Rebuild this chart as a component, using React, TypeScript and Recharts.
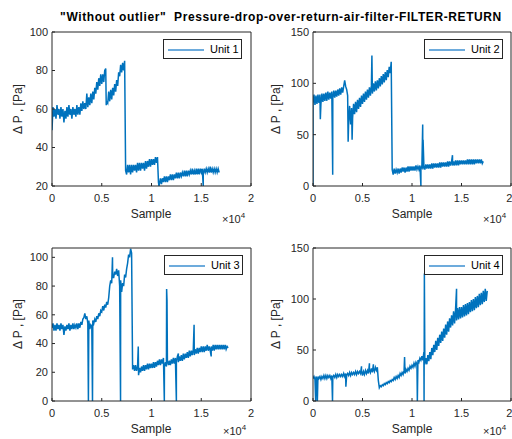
import { LineChart, Line, XAxis, YAxis, Legend } from 'recharts'

// samples are spaced STEP apart; spikes are extra [sample, value] points
const STEP = 100

const unit1Values = [
  49, 61, 56, 60, 55, 62, 57, 60, 55, 61,
  56, 60, 53, 59, 55, 61, 56, 62, 57, 60,
  55, 61, 57, 60, 56, 62, 57, 61, 57, 63,
  59, 64, 60, 63, 60, 68, 61, 66, 62, 68,
  63, 69, 65, 71, 68, 74, 70, 76, 72, 78,
  73, 78, 74, 80, 81, 64, 63, 69, 64, 70,
  65, 71, 67, 73, 69, 75, 72, 79, 77, 83,
  79, 84, 80, 85, 28, 26, 31, 27, 31, 26,
  31, 27, 31, 28, 31, 27, 32, 28, 32, 28,
  32, 29, 32, 28, 33, 29, 33, 30, 34, 30,
  34, 31, 34, 31, 35, 32, 35, 22, 21, 24,
  21, 24, 22, 25, 22, 25, 22, 25, 23, 26,
  23, 26, 23, 26, 24, 27, 24, 27, 24, 27,
  25, 27, 25, 28, 25, 28, 25, 28, 26, 28,
  26, 29, 26, 28, 26, 29, 26, 29, 26, 29,
  27, 29, 26, 29, 27, 29, 27, 29, 27, 30,
  27, 29, 27, 29, 27, 29, 27, 29, 27,
]
const unit1Spikes: [number, number][] = [[3500, 68], [5450, 62], [10750, 20], [15200, 20]]

const unit2Values = [
  80, 89, 79, 88, 80, 89, 81, 89, 80, 90,
  82, 90, 83, 91, 83, 92, 84, 91, 85, 92,
  85, 93, 86, 93, 87, 94, 88, 95, 89, 96,
  91, 97, 103, 97, 94, 88, 62, 78, 60, 76,
  66, 80, 70, 82, 72, 84, 75, 86, 77, 88,
  80, 90, 82, 92, 84, 94, 86, 96, 88, 98,
  90, 100, 92, 102, 93, 103, 95, 105, 97, 107,
  99, 109, 101, 111, 103, 113, 106, 116, 110, 121,
  16, 11, 17, 12, 16, 13, 17, 12, 17, 13,
  18, 14, 18, 13, 18, 14, 19, 14, 19, 15,
  19, 15, 19, 15, 20, 16, 19, 16, 20, 16,
  20, 16, 20, 16, 21, 17, 21, 17, 21, 17,
  22, 17, 22, 18, 22, 18, 22, 18, 23, 18,
  23, 19, 23, 19, 23, 19, 24, 19, 24, 20,
  24, 20, 24, 20, 25, 20, 25, 20, 25, 21,
  25, 21, 25, 21, 25, 21, 26, 21, 26, 21,
  26, 21, 26, 21, 26, 22, 26, 22, 26, 22,
  26, 22, 24,
]
const unit2Spikes: [number, number][] = [
  [0, 0], [740, 65], [1990, 11], [3550, 43], [3950, 45], [5950, 127],
  [10900, 0], [11080, 60], [11120, 45], [14090, 30],
]

const unit3Values = [
  51, 54, 49, 53, 49, 54, 50, 53, 49, 54,
  50, 53, 46, 52, 49, 53, 50, 54, 49, 53,
  50, 54, 50, 53, 51, 54, 50, 54, 51, 55,
  53, 57, 58, 61, 57, 59, 54, 56, 50, 53,
  52, 56, 54, 57, 55, 59, 57, 61, 59, 63,
  62, 66, 63, 67, 65, 69, 67, 72, 80, 84,
  82, 86, 86, 90, 88, 92, 87, 91, 80, 84,
  76, 82, 80, 88, 86, 92, 96, 102, 100, 106,
  103, 22, 25, 21, 25, 21, 24, 18, 23, 20,
  24, 21, 25, 21, 25, 22, 26, 22, 26, 23,
  26, 23, 27, 23, 27, 24, 28, 25, 29, 25,
  29, 26, 30, 24, 27, 24, 28, 25, 28, 25,
  29, 26, 30, 26, 30, 27, 31, 27, 31, 28,
  32, 28, 33, 29, 33, 30, 34, 30, 35, 31,
  35, 32, 36, 32, 36, 33, 37, 33, 37, 34,
  38, 34, 38, 34, 38, 35, 39, 35, 38, 35,
  38, 35, 39, 35, 39, 36, 39, 36, 39, 36,
  39, 36, 39, 36, 39, 36, 38, 37,
]
const unit3Spikes: [number, number][] = [
  [3660, 0], [4070, 0], [6080, 100], [6890, 0], [8670, 38], [11290, 0],
  [11520, 78], [11560, 70], [12500, 0], [12700, 33], [14280, 53], [16000, 31],
]

const unit4Values = [
  22, 24, 21, 24, 21, 24, 22, 24, 21, 24,
  22, 25, 22, 25, 22, 25, 23, 25, 22, 25,
  23, 25, 23, 26, 23, 26, 24, 26, 24, 26,
  24, 27, 24, 27, 25, 27, 25, 28, 25, 28,
  26, 28, 26, 29, 26, 29, 27, 29, 27, 30,
  25, 29, 26, 30, 27, 30, 27, 31, 28, 32,
  28, 32, 29, 33, 30, 33, 20, 13, 15, 14,
  16, 15, 17, 16, 18, 17, 19, 18, 20, 19,
  21, 20, 23, 21, 24, 22, 25, 23, 27, 25,
  28, 26, 30, 27, 31, 29, 32, 30, 34, 32,
  35, 33, 37, 34, 38, 36, 40, 38, 42, 40,
  44, 40, 48, 36, 42, 36, 45, 39, 48, 41,
  52, 45, 55, 48, 59, 50, 62, 54, 65, 57,
  68, 59, 71, 62, 75, 65, 78, 68, 81, 72,
  84, 74, 88, 76, 90, 79, 91, 80, 92, 81,
  92, 82, 94, 83, 95, 84, 96, 85, 97, 87,
  99, 88, 100, 89, 102, 91, 103, 92, 105, 94,
  106, 95, 108, 97, 110, 98, 108,
]
const unit4Spikes: [number, number][] = [
  [270, 0], [440, 0], [1970, 0], [3320, 14], [4900, 34], [5700, 37], [6100, 36],
  [9250, 43], [10540, 0], [11220, 0], [11250, 125], [14500, 110],
]

const X_TICKS = [0, 5000, 10000, 15000, 20000]
const Y_TICKS_1 = [20, 40, 60, 80, 100]
const Y_TICKS_2 = [0, 50, 100, 150]
const Y_TICKS_3 = [0, 20, 40, 60, 80, 100]
const Y_TICKS_4 = [0, 50, 100, 150]

const LINE = '#0072BD'
const AXIS = '#262626'
const FONT = '"Liberation Sans", Arial, Helvetica, sans-serif'

function buildSeries(values: number[], spikes: [number, number][]) {
  const pts = values.map((v, i) => ({ sample: i * STEP, value: v, order: 1 }))
  spikes.forEach(([s, v]) => pts.push({ sample: s, value: v, order: 0 }))
  return pts.sort((a, b) => a.sample - b.sample || a.order - b.order)
}

const tickStyle = { fontSize: 11, fill: AXIS, fontFamily: FONT }

function UnitLegend({ payload }: any) {
  const item = payload && payload[0]
  if (!item) return null
  return (
    <div
      style={{
        width: 79,
        height: 20,
        boxSizing: 'border-box',
        border: `1px solid ${AXIS}`,
        background: '#fff',
        position: 'relative',
        fontFamily: FONT,
        fontSize: 11,
        color: '#000',
      }}
    >
      <svg width={40} height={18} style={{ position: 'absolute', left: 0, top: 0 }}>
        <line x1={4} y1={10} x2={40} y2={10} stroke="#3d8fd0" strokeWidth={1.5} />
      </svg>
      <span style={{ position: 'absolute', left: 46, top: 3, lineHeight: '13px' }}>{item.value}</span>
    </div>
  )
}

interface PanelProps {
  name: string
  data: { sample: number; value: number }[]
  yDomain: [number, number]
  yTicks: number[]
  left: number
  top: number
  height: number
  margin: { top: number; left: number; right: number; bottom: number }
  legendLeft: number
  legendTop: number
}

function Panel({ name, data, yDomain, yTicks, left, top, height, margin, legendLeft, legendTop }: PanelProps) {
  return (
    <div style={{ position: 'absolute', left, top }}>
      <LineChart width={256} height={height} data={data} margin={margin}>
        <XAxis
          dataKey="sample"
          type="number"
          domain={[0, 20000]}
          ticks={X_TICKS}
          tickFormatter={(v) => String(v / 10000)}
          height={20}
          tickSize={-3}
          tickMargin={11}
          tick={tickStyle}
          stroke={AXIS}
          allowDataOverflow
        />
        <XAxis
          xAxisId="top"
          orientation="top"
          type="number"
          domain={[0, 20000]}
          ticks={X_TICKS}
          height={2}
          tickSize={-3}
          tick={false}
          stroke={AXIS}
          allowDataOverflow
        />
        <YAxis
          type="number"
          domain={yDomain}
          ticks={yTicks}
          width={30}
          tickSize={-3}
          tickMargin={7}
          tick={tickStyle}
          stroke={AXIS}
          allowDataOverflow
        />
        <YAxis
          yAxisId="right"
          orientation="right"
          type="number"
          domain={yDomain}
          ticks={yTicks}
          width={1}
          tickSize={-3}
          tick={false}
          stroke={AXIS}
          allowDataOverflow
        />
        <Legend
          layout="horizontal"
          verticalAlign="middle"
          align="center"
          content={<UnitLegend />}
          wrapperStyle={{ left: legendLeft, top: legendTop, width: 79, height: 20 }}
        />
        <Line
          name={name}
          dataKey="value"
          type="linear"
          stroke={LINE}
          strokeWidth={1.5}
          dot={false}
          isAnimationActive={false}
        />
      </LineChart>
    </div>
  )
}

const labelStyle = {
  position: 'absolute' as const,
  fontFamily: FONT,
  fontSize: 12,
  color: AXIS,
  whiteSpace: 'nowrap' as const,
  lineHeight: '12px',
}

function YLabel({ x, y }: { x: number; y: number }) {
  return (
    <div style={{ ...labelStyle, left: x, top: y, transform: 'translate(-50%, -50%) rotate(-90deg)' }}>
      Δ P , [Pa]
    </div>
  )
}

function XLabel({ x, y }: { x: number; y: number }) {
  return (
    <div style={{ ...labelStyle, left: x, top: y, transform: 'translate(-50%, -50%)' }}>Sample</div>
  )
}

function Exponent({ x, y }: { x: number; y: number }) {
  return (
    <div style={{ ...labelStyle, left: x, top: y, fontSize: 11, lineHeight: '11px' }}>
      ×10<span style={{ fontSize: 8, position: 'relative', top: -5 }}>4</span>
    </div>
  )
}

export default function App() {
  const marginTop = { top: 30, left: 22, right: 4, bottom: 14 }
  const marginTopR = { top: 30, left: 27, right: 0, bottom: 14 }
  const marginBot = { top: 26, left: 22, right: 4, bottom: 18 }
  const marginBotR = { top: 26, left: 27, right: 0, bottom: 18 }

  return (
    <div style={{ position: 'absolute', left: 0, top: 0, width: 512, height: 439, background: '#fff', overflow: 'hidden' }}>
      <div
        style={{
          position: 'absolute',
          left: 281,
          top: 10,
          transform: 'translateX(-50%)',
          fontFamily: FONT,
          fontSize: 12,
          fontWeight: 'bold',
          letterSpacing: 0.6,
          lineHeight: '14px',
          whiteSpace: 'nowrap',
          color: '#000',
        }}
      >
        "Without outlier"&nbsp; Pressure-drop-over-return-air-filter-FILTER-RETURN
      </div>

      <Panel name="Unit 1" data={buildSeries(unit1Values, unit1Spikes)} yDomain={[20, 100]} yTicks={Y_TICKS_1}
        left={0} top={0} height={220} margin={marginTop} legendLeft={163} legendTop={39} />
      <Panel name="Unit 2" data={buildSeries(unit2Values, unit2Spikes)} yDomain={[0, 150]} yTicks={Y_TICKS_2}
        left={256} top={0} height={220} margin={marginTopR} legendLeft={168} legendTop={39} />
      <Panel name="Unit 3" data={buildSeries(unit3Values, unit3Spikes)} yDomain={[0, 106.5]} yTicks={Y_TICKS_3}
        left={0} top={220} height={219} margin={marginBot} legendLeft={164} legendTop={35} />
      <Panel name="Unit 4" data={buildSeries(unit4Values, unit4Spikes)} yDomain={[0, 150]} yTicks={Y_TICKS_4}
        left={256} top={220} height={219} margin={marginBotR} legendLeft={168} legendTop={35} />

      <YLabel x={18} y={109} />
      <YLabel x={276} y={109} />
      <YLabel x={18} y={324} />
      <YLabel x={276} y={324} />
      <XLabel x={151} y={214} />
      <XLabel x={412} y={214} />
      <XLabel x={151} y={429} />
      <XLabel x={412} y={429} />
      <Exponent x={222} y={214} />
      <Exponent x={483} y={214} />
      <Exponent x={223} y={426} />
      <Exponent x={483} y={426} />
    </div>
  )
}
